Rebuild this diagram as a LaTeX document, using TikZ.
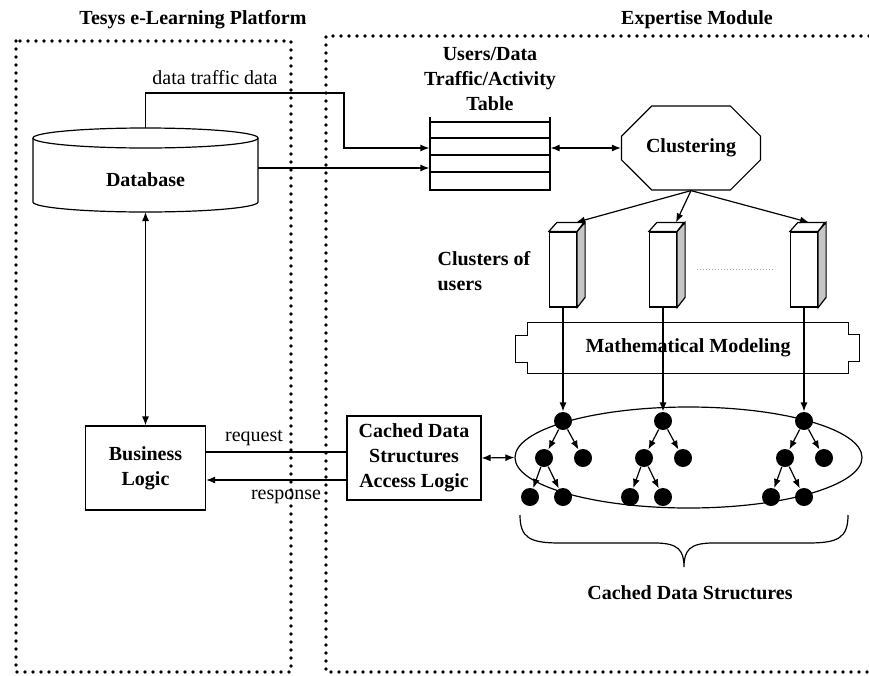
\documentclass[tikz,border=0pt]{standalone}
\usepackage{fontspec}
\setmainfont{Liberation Serif}
\usetikzlibrary{arrows.meta,shapes.geometric,shapes.misc,positioning}

\begin{document}
\begin{tikzpicture}[x=1pt, y=-1pt, line width=1.2pt,
  lbl/.style={font=\fontsize{20}{25}\selectfont\bfseries, align=center, inner sep=0pt},
  txt/.style={font=\fontsize{20}{24}\selectfont, inner sep=0pt},
  box/.style={draw, lbl},
  frame/.style={line width=3.6pt, line cap=round, dash pattern=on 0pt off 8pt},
  arr/.style={-{Latex[length=9pt,width=7pt]}},
  darr/.style={{Latex[length=9pt,width=7pt]}-{Latex[length=9pt,width=7pt]}},
  leaf/.style={circle, fill=black, inner sep=0pt, minimum size=18pt},
  clbox/.style={draw, fill=white, minimum width=27pt, minimum height=75pt, inner sep=0pt}]

\useasboundingbox (0,0) rectangle (869,675);

% ---------- the two dotted frames
\draw[frame] (16,41) rectangle (291,672);
\draw[frame] (869,36) -- (326,36) -- (326,672) -- (869,672);
\node[lbl] (tplat) at (193,20) {Tesys e-Learning Platform};
\node[lbl] (texp) at (697,20) {Expertise Module};

% ---------- database (cylinder drawn by hand)
\draw (33,138) -- (33,202) arc[start angle=180, end angle=0, x radius=112.5, y radius=10] -- (258,138);
\draw (145.5,138) ellipse [x radius=112.5, y radius=10];
\node[lbl] (db) at (145.5,180) {Database};
\coordinate (dbtop) at (145.5,128);
\coordinate (dbbot) at (145.5,212);
\coordinate (dbright) at (258,168);

% ---------- users/data traffic/activity table
\node[minimum width=120pt, minimum height=68pt, inner sep=0pt] (tbl) at (490,156) {};
\draw (430,117) -- (430,190) -- (550,190) -- (550,117);
\foreach \y in {122,138,155,172}
  \draw (430,\y) -- (550,\y);
\node[lbl] (ttl) at (490,79) {Users/Data\\Traffic/Activity\\Table};

\draw[arr] (dbtop) |- (344,93) |- ([yshift=8pt]tbl.west);
\node[txt] (ltraf) at (215,78) {data traffic data};
\draw[arr] (dbright) -- ([yshift=-12pt]tbl.west);

% ---------- clustering
\node[draw, chamfered rectangle, chamfered rectangle xsep=21pt, chamfered rectangle ysep=21pt,
      minimum width=139pt, minimum height=84pt, lbl] (clu) at (691,148) {Clustering};
\draw[darr] (tbl.east |- clu.west) -- (clu.west);

% ---------- clusters of users
\foreach \i/\x/\dx in {1/563/13, 2/663/13, 3/804/5} {
  \node[clbox] (c\i) at (\x,269.5) {};
  \filldraw[fill=gray!45] (c\i.north east) -- ++(8,-9) -- ++(0,75) -- (c\i.south east) -- cycle;
  \filldraw[fill=white] (c\i.north west) -- ++(8,-9) -- ++(27,0) -- (c\i.north east) -- cycle;
  \draw[arr] (clu.south) -- ([shift={(\dx,-9)}]c\i.north);
}
\draw[gray!70, dotted, line width=1pt] ([xshift=20pt]c2.east) -- ([xshift=-16pt]c3.west);
\node[lbl, align=left, anchor=west] (lclu) at (437,271) {Clusters of\\users};

% ---------- mathematical modeling
\node[lbl, minimum width=320pt, minimum height=50pt] (mm) at (688,348) {Mathematical Modeling};
\draw (mm.north west) -- (mm.north east) -- ++(0,12) -- ++(11,0) -- ++(0,27) -- ++(-11,0)
  -- (mm.south east) -- (mm.south west) -- ++(0,-11) -- ++(-12,0) -- ++(0,-27) -- ++(12,0) -- cycle;

% ---------- cached data structures
\node[draw, ellipse, minimum width=347pt, minimum height=101pt, inner sep=0pt] (ell) at (688.5,457.5) {};
\foreach \i/\x in {1/563, 2/663, 3/804} {
  \node[leaf] (r\i) at (\x,421) {};
  \node[leaf] (a\i) at (\x-19,458) {};
  \node[leaf] (b\i) at (\x+20,458) {};
  \node[leaf] (d\i) at (\x-33,497) {};
  \node[leaf] (e\i) at (\x,497) {};
  \draw[arr] (c\i.south) -- (r\i);
  \draw[arr] (r\i) -- (a\i);
  \draw[arr] (r\i) -- (b\i);
  \draw[arr] (a\i) -- (d\i);
  \draw[arr] (a\i) -- (e\i);
}
\draw (520,515) .. controls (520,538) and (530,543) .. (560,543) -- (655,543)
  .. controls (678,543) and (684,550) .. (684,567)
  .. controls (684,550) and (690,543) .. (713,543) -- (808,543)
  .. controls (838,543) and (848,538) .. (848,515);
\node[lbl] (lcds) at (690,593) {Cached Data Structures};

% ---------- access logic and business logic
\node[box, minimum width=134pt, minimum height=84pt, inner sep=0pt] (acc) at (414,458) {Cached Data\\Structures\\Access Logic};
\draw[darr] (acc.east) -- (ell.west);

\node[box, minimum width=120pt, minimum height=84pt, inner sep=0pt] (biz) at (145.5,468) {Business\\Logic};
\draw[darr] (dbbot) -- (biz.north);
\draw ([yshift=16pt]biz.east) -- ([yshift=16pt]biz.east -| acc.west);
\draw[arr] ([yshift=-12pt]biz.east -| acc.west) -- ([yshift=-12pt]biz.east);
\node[txt] (lreq) at (254,438) {request};
\node[txt] (lresp) at (286,497) {response};
\end{tikzpicture}
\end{document}
